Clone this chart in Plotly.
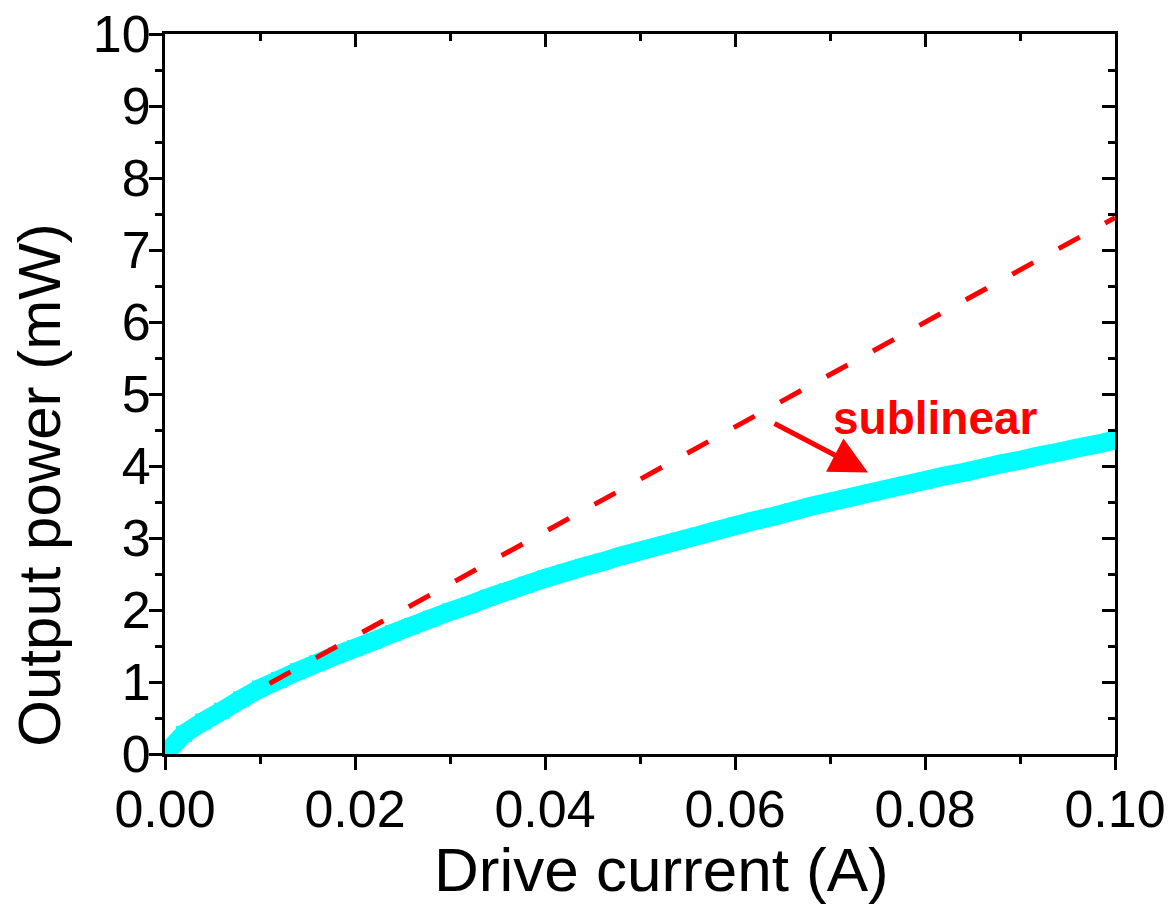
import plotly.graph_objects as go

# Measured curve (drive current in A, output power in mW)
current = [0.000, 0.002, 0.004, 0.006, 0.008, 0.010, 0.012, 0.014, 0.016, 0.018,
           0.020, 0.022, 0.024, 0.026, 0.028, 0.030, 0.032, 0.034, 0.036, 0.038,
           0.040, 0.042, 0.044, 0.046, 0.048, 0.050, 0.052, 0.054, 0.056, 0.058,
           0.060, 0.062, 0.064, 0.066, 0.068, 0.070, 0.072, 0.074, 0.076, 0.078,
           0.080, 0.082, 0.084, 0.086, 0.088, 0.090, 0.092, 0.094, 0.096, 0.098,
           0.100]
power = [0.00, 0.28, 0.45, 0.60, 0.76, 0.91, 1.03, 1.15, 1.26, 1.37,
         1.47, 1.57, 1.68, 1.78, 1.88, 1.98, 2.07, 2.17, 2.26, 2.35,
         2.44, 2.52, 2.60, 2.67, 2.75, 2.82, 2.89, 2.96, 3.03, 3.10,
         3.17, 3.24, 3.30, 3.37, 3.44, 3.50, 3.56, 3.62, 3.68, 3.74,
         3.80, 3.86, 3.91, 3.97, 4.03, 4.08, 4.14, 4.19, 4.25, 4.30,
         4.36]

# Linear reference (dashed)
linear_current = [0.011, 0.100]
linear_power = [0.98, 7.45]

x_ticks = [0.00, 0.02, 0.04, 0.06, 0.08, 0.10]
x_ticktext = ["0.00", "0.02", "0.04", "0.06", "0.08", "0.10"]
y_ticks = [0, 1, 2, 3, 4, 5, 6, 7, 8, 9, 10]

FONT = "Liberation Sans, Arial, sans-serif"
CYAN = "#00FFFF"
RED = "#FF0000"

fig = go.Figure()
fig.add_trace(go.Scatter(
    x=current, y=power, mode="lines+markers",
    line=dict(color=CYAN, width=19, simplify=False),
    marker=dict(symbol="square", size=16, color=CYAN, line=dict(width=0)),
    showlegend=False, hoverinfo="skip",
))
fig.add_trace(go.Scatter(
    x=linear_current, y=linear_power, mode="lines",
    line=dict(color=RED, width=5, dash="24px,29px"),
    showlegend=False, hoverinfo="skip",
))
# invisible trace for mirrored (inside-tick) axes
fig.add_trace(go.Scatter(x=[0.0], y=[0.0], xaxis="x2", yaxis="y2", mode="markers",
                         marker=dict(opacity=0), showlegend=False, hoverinfo="skip"))

axis_common = dict(showgrid=False, zeroline=False, showline=True, automargin=False,
                   linecolor="black", linewidth=3, tickcolor="black", tickwidth=3)

fig.update_layout(
    width=1168, height=911,
    margin=dict(l=165, r=53, t=34, b=157),
    paper_bgcolor="white", plot_bgcolor="white",
    font=dict(family=FONT, color="black"),
    xaxis=dict(
        range=[0, 0.10], tickvals=x_ticks, ticktext=x_ticktext,
        ticks="outside", ticklen=13, ticklabelstandoff=-5,
        minor=dict(dtick=0.01, tick0=0, ticks="outside", ticklen=7,
                   tickwidth=3, tickcolor="black", showgrid=False),
        tickfont=dict(size=52, family=FONT),
        **axis_common,
    ),
    yaxis=dict(
        range=[0, 10], tickvals=y_ticks,
        ticks="outside", ticklen=13, ticklabelstandoff=-12,
        minor=dict(dtick=0.5, tick0=0, ticks="outside", ticklen=7,
                   tickwidth=3, tickcolor="black", showgrid=False),
        tickfont=dict(size=52, family=FONT),
        **axis_common,
    ),
    xaxis2=dict(
        range=[0, 0.10], tickvals=x_ticks, overlaying="x", side="top",
        ticks="inside", ticklen=13, showticklabels=False,
        minor=dict(dtick=0.01, tick0=0, ticks="inside", ticklen=7,
                   tickwidth=3, tickcolor="black", showgrid=False),
        **axis_common,
    ),
    yaxis2=dict(
        range=[0, 10], tickvals=y_ticks, overlaying="y", side="right",
        ticks="inside", ticklen=13, showticklabels=False,
        minor=dict(dtick=0.5, tick0=0, ticks="inside", ticklen=7,
                   tickwidth=3, tickcolor="black", showgrid=False),
        **axis_common,
    ),
)

# Axis titles
fig.add_annotation(
    x=-0.1316, y=0.374, xref="paper", yref="paper", text="Output power (mW)",
    textangle=-90, showarrow=False, xanchor="center", yanchor="middle",
    font=dict(size=60, family=FONT, color="black"),
)
fig.add_annotation(
    x=0.523, y=-0.16, xref="paper", yref="paper", text="Drive current (A)",
    showarrow=False, xanchor="center", yanchor="middle",
    font=dict(size=62, family=FONT, color="black"),
)

# Arrow and label
fig.add_annotation(
    x=0.074, y=3.91, ax=0.064, ay=4.60, xref="x", yref="y", axref="x", ayref="y",
    showarrow=True, arrowhead=2, arrowsize=1.5, arrowwidth=5, arrowcolor=RED,
    standoff=0, text="",
)
fig.add_annotation(
    x=0.0811, y=4.66, xref="x", yref="y", text="<b>sublinear</b>",
    showarrow=False, xanchor="center", yanchor="middle",
    font=dict(size=46, color=RED, family=FONT),
)

fig.write_html("out.html")
